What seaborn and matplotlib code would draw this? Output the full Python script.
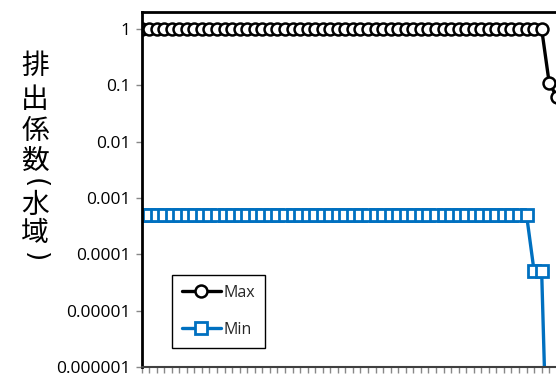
import matplotlib
matplotlib.use("Agg")
import matplotlib.pyplot as plt
import matplotlib.ticker as mticker
import seaborn as sns
import pandas as pd

# ---- data ----
max_x = list(range(56))
max_y = [1.0] * 54 + [0.11, 0.063]
min_x = list(range(55))
min_y = [5e-4] * 52 + [5e-5, 5e-5, 1e-9]
series_names = ["Max", "Min"]
ytick_vals = [1, 0.1, 0.01, 0.001, 0.0001, 0.00001, 0.000001]
ytick_labels = ["1", "0.1", "0.01", "0.001", "0.0001", "0.00001", "0.000001"]
ylabel_parts = ["排", "出", "係", "数", "(", "水\n域", ")"]

sns.set_theme(style="white")
plt.rcParams["font.family"] = ["Open Sans", "DejaVu Sans"]

W, H = 556, 375
fig = plt.figure(figsize=(W / 100, H / 100), dpi=100)
left_px, right_px, top_px, bot_px = 141.5, 600, 12, 367
ax = fig.add_axes([left_px / W, 1 - bot_px / H,
                   (right_px - left_px) / W, (bot_px - top_px) / H])

df_max = pd.DataFrame({"x": max_x, "y": max_y})
df_min = pd.DataFrame({"x": min_x, "y": min_y})

sns.lineplot(data=df_min, x="x", y="y", ax=ax, color="#0070C0", lw=2.4,
             marker="s", markersize=9, markerfacecolor="white",
             markeredgecolor="#0070C0", markeredgewidth=2.0,
             sort=False, estimator=None, label=series_names[1])
sns.lineplot(data=df_max, x="x", y="y", ax=ax, color="black", lw=2.4,
             marker="o", markersize=8.6, markerfacecolor="white",
             markeredgecolor="black", markeredgewidth=1.8,
             sort=False, estimator=None, label=series_names[0])

ax.set_yscale("log")
ax.set_ylim(1e-6, 2)
spacing = 7.55
ax.set_xlim(0, (right_px - left_px) / spacing)
ax.yaxis.set_major_locator(mticker.FixedLocator(ytick_vals))
ax.yaxis.set_major_formatter(mticker.FixedFormatter(ytick_labels))
ax.yaxis.set_minor_locator(mticker.NullLocator())
ax.xaxis.set_major_locator(mticker.MultipleLocator(1))
ax.xaxis.set_major_formatter(mticker.NullFormatter())
ax.set_xlabel("")
ax.set_ylabel("")

ax.tick_params(axis="y", which="major", direction="out", length=4, width=1,
               color="#888888", pad=4, labelsize=12.5, labelcolor="black", left=True)
ax.tick_params(axis="x", which="major", direction="out", length=4, width=1,
               color="#888888", bottom=True)

for s in ["left", "top"]:
    ax.spines[s].set_color("black")
    ax.spines[s].set_linewidth(2)
ax.spines["bottom"].set_color("#404040")
ax.spines["bottom"].set_linewidth(1.5)
ax.spines["right"].set_visible(False)

# y label: upright characters stacked vertically; brackets turned for vertical writing
part_y = [63, 96, 128, 157, 183, 219, 257]
cjk = ["Noto Sans CJK JP", "DejaVu Sans"]
for part, yy in zip(ylabel_parts, part_y):
    if part in "()":
        fig.text(35 / W, 1 - yy / H, part, ha="center", va="center",
                 fontsize=19, rotation=-90, family=["DejaVu Sans"], color="black")
    elif "\n" in part:
        fig.text(35 / W, 1 - yy / H, part, ha="center", va="center",
                 fontsize=20, linespacing=0.92, family=cjk, color="black")
    else:
        fig.text(35 / W, 1 - yy / H, part, ha="center", va="center_baseline",
                 fontsize=20, family=cjk, color="black")

handles, labels = ax.get_legend_handles_labels()
order = [labels.index("Max"), labels.index("Min")]
leg = ax.legend([handles[i] for i in order], [labels[i] for i in order],
                loc="upper left", bbox_to_anchor=(171.7 / W, 1 - 275 / H),
                bbox_transform=fig.transFigure, borderaxespad=0,
                fontsize=11.5, handlelength=2.45, handletextpad=0.15,
                labelspacing=1.3, borderpad=0.62, frameon=True, fancybox=False,
                framealpha=1, edgecolor="black")
leg.get_frame().set_linewidth(1)

fig.savefig("out.png", dpi=100)
